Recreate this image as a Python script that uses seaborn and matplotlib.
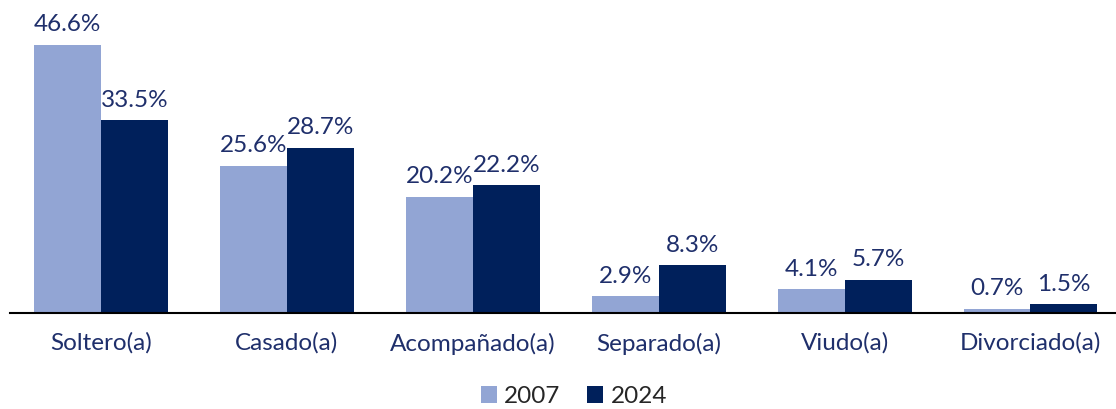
import pandas as pd
import seaborn as sns
import matplotlib as mpl
import matplotlib.pyplot as plt

mpl.use('Agg')

categorias = ['Soltero(a)', 'Casado(a)', 'Acompañado(a)', 'Separado(a)', 'Viudo(a)', 'Divorciado(a)']
v2007 = [46.6, 25.6, 20.2, 2.9, 4.1, 0.7]
v2024 = [33.5, 28.7, 22.2, 8.3, 5.7, 1.5]
anios = ['2007', '2024']
colores = ['#92A5D4', '#00205B']

df = pd.DataFrame({
    'cat': categorias * 2,
    'val': v2007 + v2024,
    'anio': [anios[0]] * len(categorias) + [anios[1]] * len(categorias),
})

sns.set_style('white')
plt.rcParams['font.family'] = ['Lato', 'DejaVu Sans']

fig = plt.figure(figsize=(11.16, 4.09), dpi=100)
ax = fig.add_axes([10 / 1116, 96 / 409, 1 - 10 / 1116, 313 / 409])
sns.barplot(data=df, x='cat', y='val', hue='anio', palette=colores, width=0.72,
            saturation=1, ax=ax, errorbar=None, linewidth=0)

for cont in ax.containers:
    ax.bar_label(cont, labels=['%.1f%%' % b.get_height() for b in cont],
                 padding=7, fontsize=17.5, color='#1F2F6B')

ax.set_xlim(-0.49, 5.46)
ax.set_ylim(0, 54.4)
ax.set_xlabel('')
ax.set_ylabel('')
ax.set_yticks([])
ax.tick_params(axis='x', length=0, labelsize=17.5, labelcolor='#1F2F6B', pad=14)
for s in ['top', 'right', 'left']:
    ax.spines[s].set_visible(False)
ax.spines['bottom'].set_color('black')
ax.spines['bottom'].set_linewidth(1.5)

ax.legend(loc='lower center', bbox_to_anchor=(0.51, -0.37), ncol=2, frameon=False,
          fontsize=17.5, handlelength=0.65, handleheight=0.65, handletextpad=0.3,
          columnspacing=1.1)

fig.savefig('out.png', dpi=100)
